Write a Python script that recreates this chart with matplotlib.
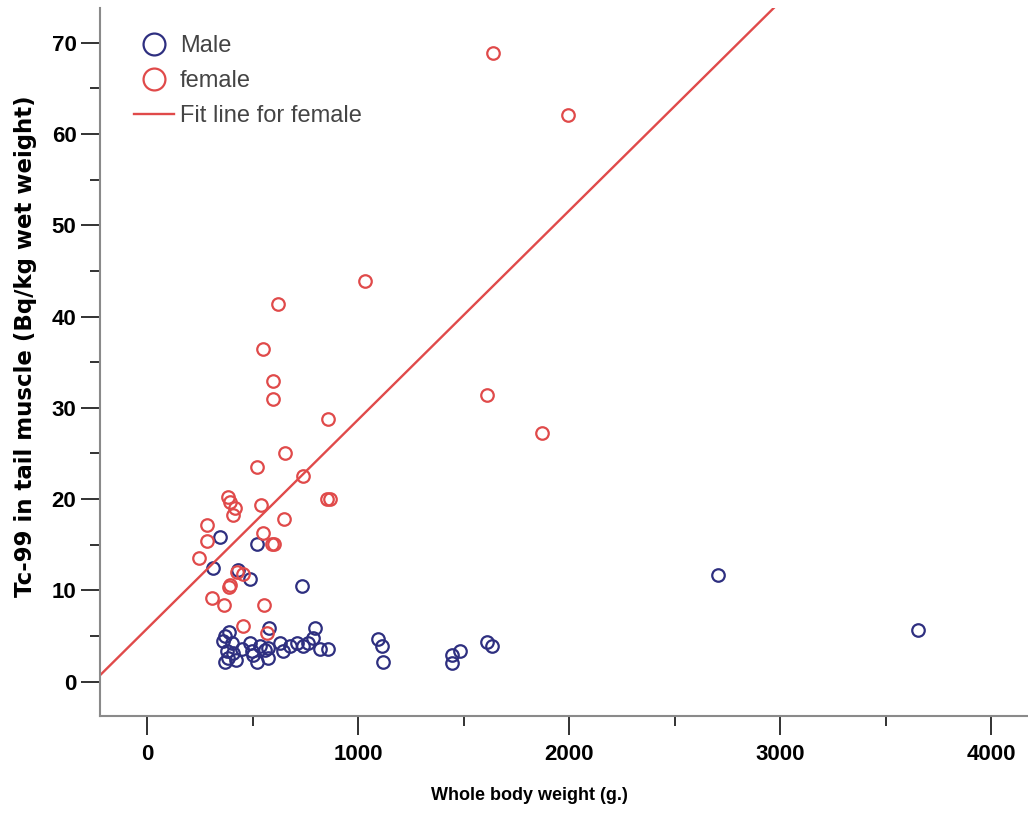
import numpy as np
import matplotlib.pyplot as plt
from matplotlib.ticker import MultipleLocator

# datos
male_x = [346, 521, 313, 431, 488, 735, 2706, 3654,
          578, 796, 389, 370, 360, 403, 379, 384, 370, 408, 450, 488,
          498, 502, 521, 535, 573, 573, 630, 645, 678, 711, 739, 763,
          787, 820, 858, 1095, 1114, 1118, 1445, 1445, 1483, 1611, 1635,
          420, 560]
male_y = [15.8, 15.1, 12.5, 12.2, 11.2, 10.5, 11.7, 5.6,
          5.9, 5.9, 5.4, 5.0, 4.5, 4.2, 3.4, 2.6, 2.1, 3.1, 3.6, 4.2,
          3.4, 2.9, 2.1, 3.9, 3.7, 2.6, 4.2, 3.4, 3.9, 4.2, 3.9, 4.2,
          4.8, 3.6, 3.6, 4.7, 3.9, 2.2, 2.9, 2.0, 3.4, 4.3, 3.9,
          2.4, 3.5]

female_x = [1640, 1995, 1033, 621, 550, 597, 597, 1611, 858, 1872,
            654, 521, 739, 384, 393, 417, 408, 540, 855, 868,
            649, 284, 550, 284, 592, 602, 246, 427, 455, 386,
            392, 308, 365, 555, 455, 568]
female_y = [68.9, 62.1, 43.9, 41.4, 36.5, 32.9, 31.0, 31.4, 28.8, 27.2,
            25.1, 23.5, 22.5, 20.2, 19.7, 19.0, 18.2, 19.4, 20.0, 20.0,
            17.8, 17.2, 16.3, 15.4, 15.1, 15.1, 13.5, 12.0, 11.8, 10.4,
            10.6, 9.2, 8.4, 8.4, 6.1, 5.3]

# recta de ajuste para hembras
fit_slope = 0.0229
fit_icpt = 5.8

blue = '#2e2f80'
red = '#e04a4a'

fig = plt.figure(figsize=(10.28, 8.13), dpi=100)
ax = fig.add_axes([0.0973, 0.119, 0.9027, 0.871])

ax.plot(male_x, male_y, 'o', mfc='none', mec=blue, mew=1.6, ms=9, label='Male')
ax.plot(female_x, female_y, 'o', mfc='none', mec=red, mew=1.6, ms=9, label='female')

xl = np.array([-230, 4200])
ax.plot(xl, fit_icpt + fit_slope*xl, color=red, lw=1.7, label='Fit line for female')

ax.set_xlim(-223, 4175)
ax.set_ylim(-3.8, 73.8)

ax.spines['top'].set_visible(False)
ax.spines['right'].set_visible(False)
for s in ['left', 'bottom']:
    ax.spines[s].set_color('#8a8a8a')
    ax.spines[s].set_linewidth(1.5)

ax.xaxis.set_major_locator(MultipleLocator(1000))
ax.xaxis.set_minor_locator(MultipleLocator(500))
ax.yaxis.set_major_locator(MultipleLocator(10))
ax.yaxis.set_minor_locator(MultipleLocator(5))
ax.tick_params(which='major', direction='out', length=14, width=1.3, color='#222222')
ax.tick_params(which='minor', direction='out', length=7, width=1.3, color='#222222')
ax.tick_params(axis='y', labelsize=16, pad=3)
ax.tick_params(axis='x', labelsize=16, pad=6)
for lab in ax.get_xticklabels() + ax.get_yticklabels():
    lab.set_fontweight('bold')
    lab.set_family('Liberation Sans')

ax.set_xlabel('Whole body weight (g.)', fontsize=13, fontweight='bold',
              family='Liberation Sans')
ax.xaxis.set_label_coords(0.463, -0.10)
ax.set_ylabel('Tc-99 in tail muscle (Bq/kg wet weight)', fontsize=16.5,
              fontweight='bold', family='DejaVu Sans')
ax.yaxis.set_label_coords(-0.068, 0.523)

leg = ax.legend(loc='upper left', bbox_to_anchor=(0.026, 0.975), frameon=False,
                markerscale=1.75, handlelength=1.7, borderaxespad=0,
                handletextpad=0.25, labelspacing=0.55,
                prop={'family': 'Liberation Sans', 'size': 17})
for t in leg.get_texts():
    t.set_color('#444444')

plt.savefig('out.png', dpi=100)
